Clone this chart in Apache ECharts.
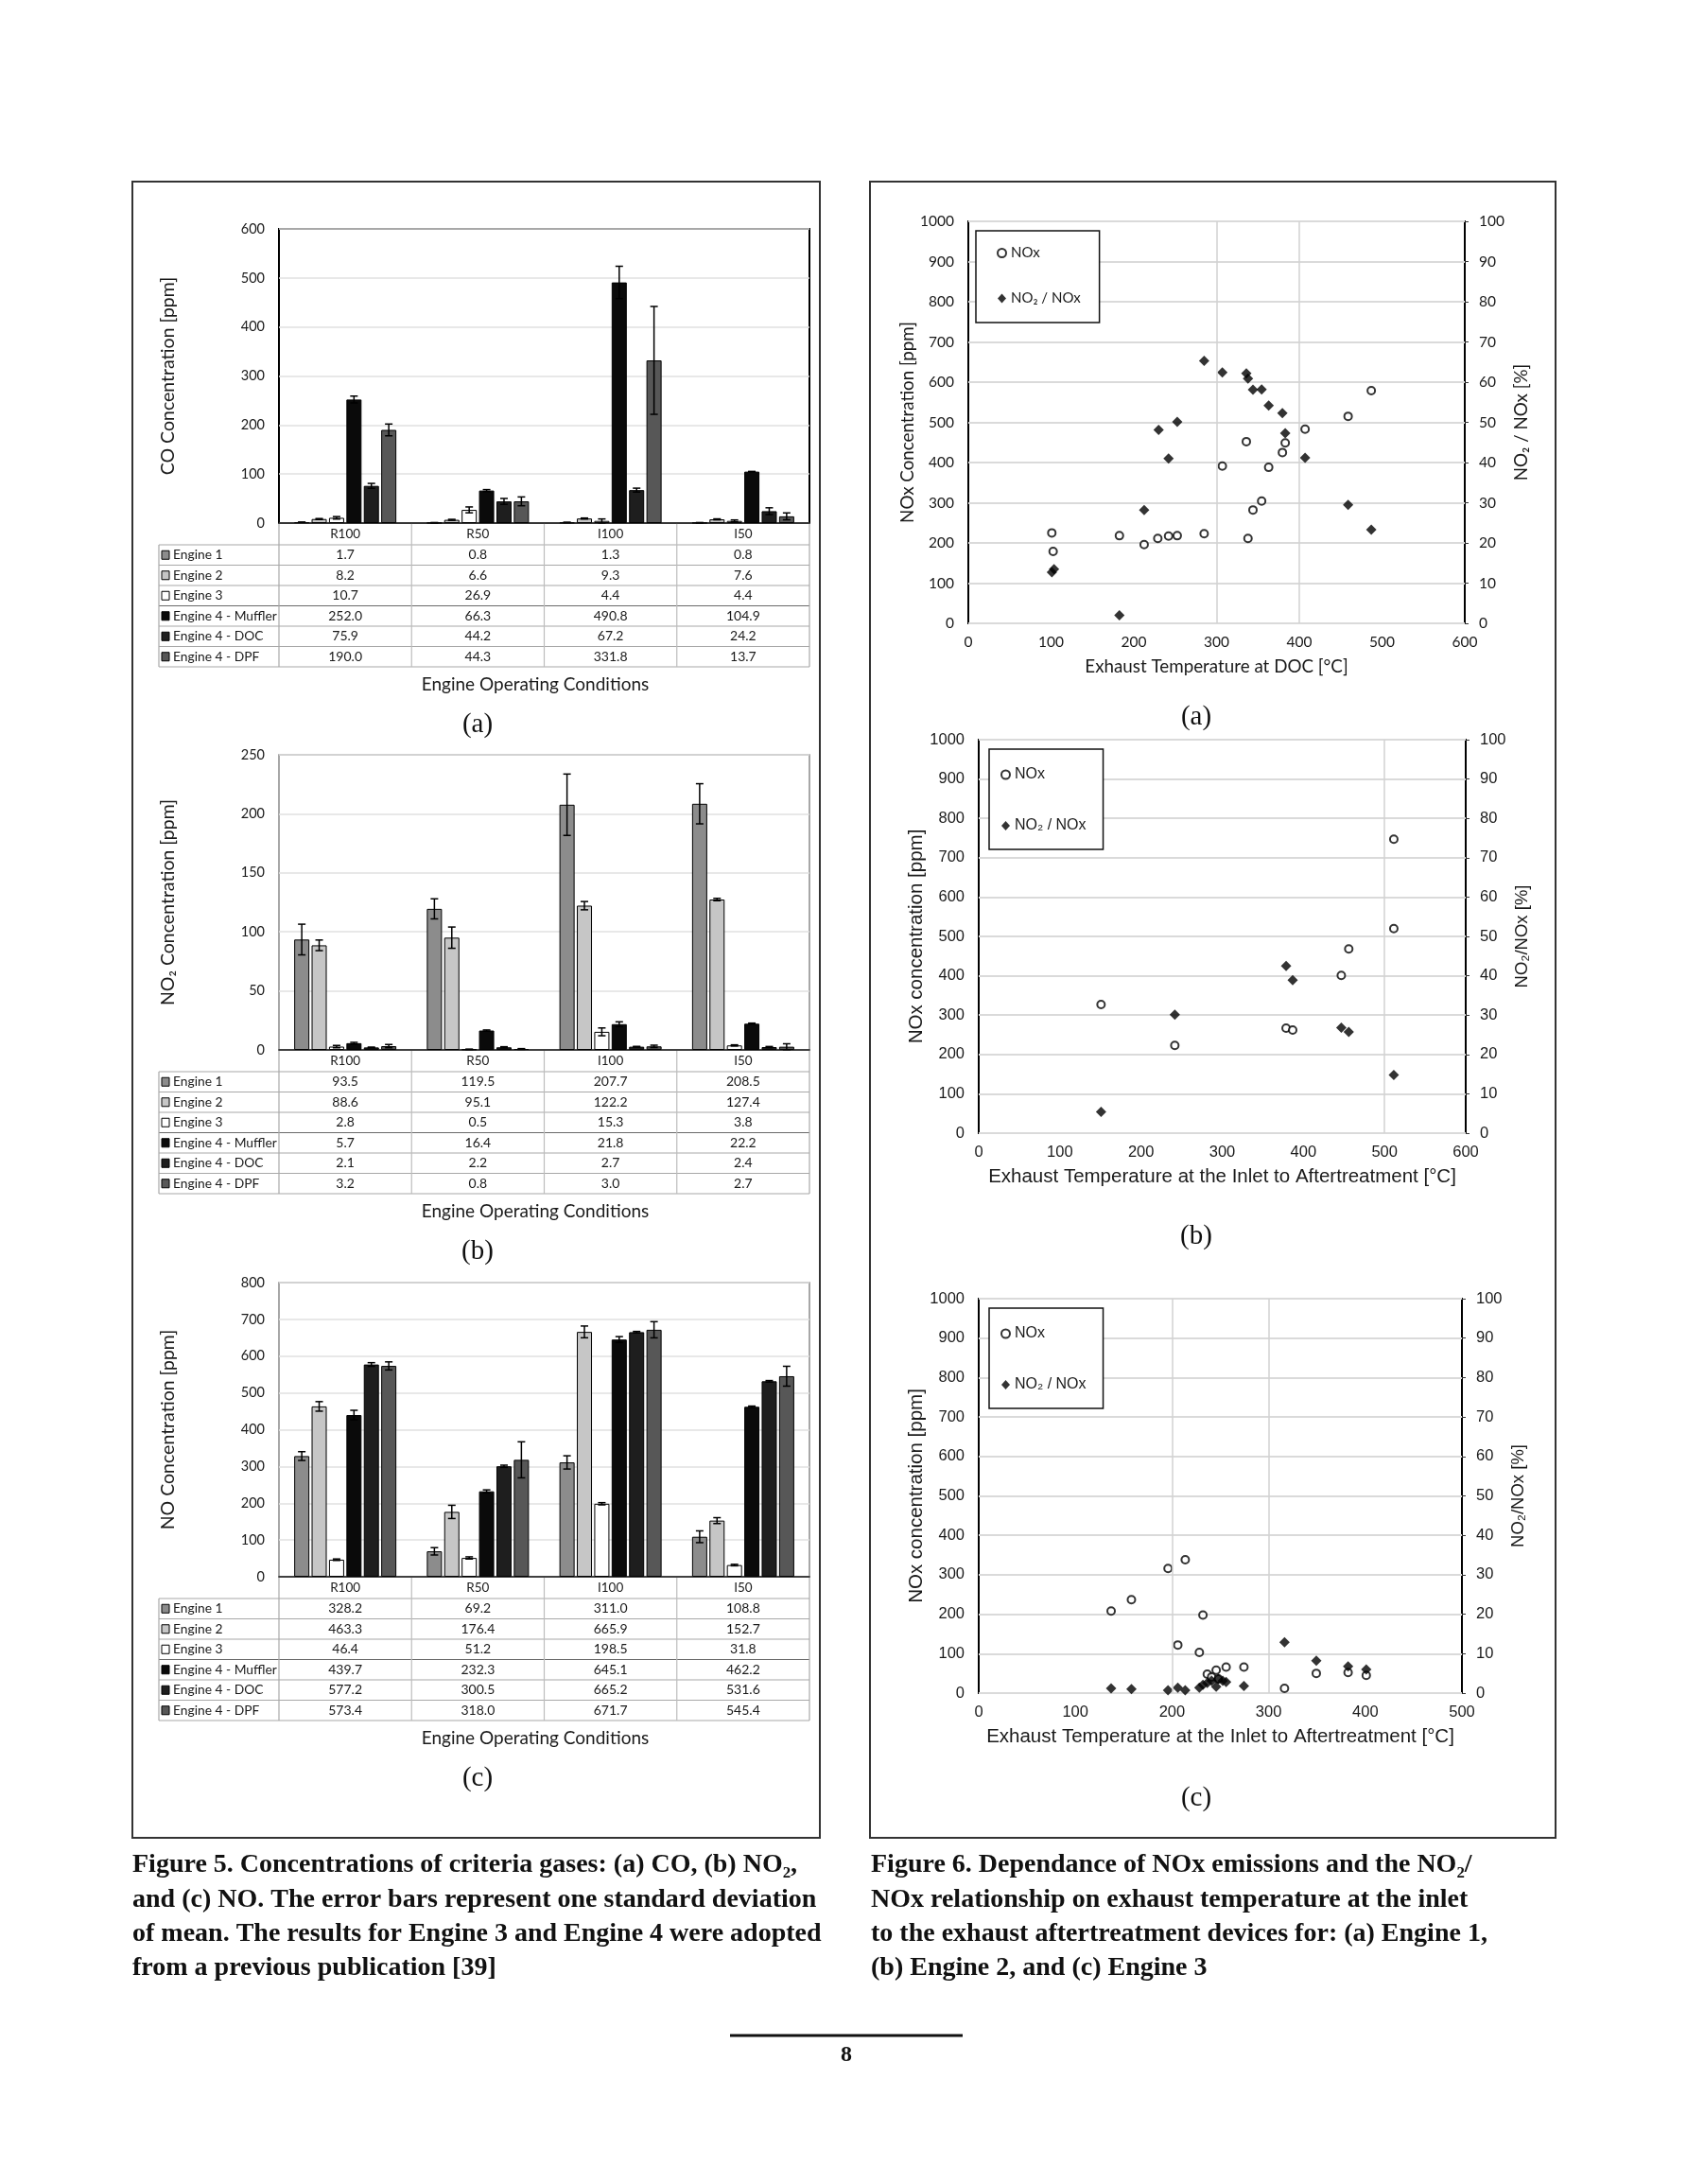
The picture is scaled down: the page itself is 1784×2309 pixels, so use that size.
<!DOCTYPE html>
<html>
<head>
<meta charset="utf-8">
<script src="https://cdn.jsdelivr.net/npm/echarts@6/dist/echarts.min.js"></script>
<style>
html,body{margin:0;padding:0;background:#ffffff;}
#page{width:1784px;height:2309px;}
</style>
</head>
<body>
<div id="page"></div>
<script>
// ---------------- DATA ----------------
const categories = ['R100', 'R50', 'I100', 'I50'];
const engineNames = ['Engine 1', 'Engine 2', 'Engine 3', 'Engine 4 - Muffler', 'Engine 4 - DOC', 'Engine 4 - DPF'];

// Figure 5 (a) CO [ppm]: rows = engines, columns = categories
const coValues = [
  [1.7, 0.8, 1.3, 0.8],
  [8.2, 6.6, 9.3, 7.6],
  [10.7, 26.9, 4.4, 4.4],
  [252.0, 66.3, 490.8, 104.9],
  [75.9, 44.2, 67.2, 24.2],
  [190.0, 44.3, 331.8, 13.7]
];
const coErrors = [
  [0.3, 0.2, 0.3, 0.2],
  [1, 1, 1, 1],
  [2.5, 6, 4, 2],
  [7, 2, 33, 0.5],
  [5, 6, 4, 7],
  [12, 9, 110, 7]
];

// Figure 5 (b) NO2 [ppm]
const no2Values = [
  [93.5, 119.5, 207.7, 208.5],
  [88.6, 95.1, 122.2, 127.4],
  [2.8, 0.5, 15.3, 3.8],
  [5.7, 16.4, 21.8, 22.2],
  [2.1, 2.2, 2.7, 2.4],
  [3.2, 0.8, 3.0, 2.7]
];
const no2Errors = [
  [13, 8.5, 26, 17],
  [4.5, 9, 3.5, 1],
  [1, 0.1, 3.3, 0.5],
  [0.7, 0.5, 2, 0.5],
  [0.3, 0.5, 0.3, 0.5],
  [1.4, 0.3, 1, 2.5]
];

// Figure 5 (c) NO [ppm]
const noValues = [
  [328.2, 69.2, 311.0, 108.8],
  [463.3, 176.4, 665.9, 152.7],
  [46.4, 51.2, 198.5, 31.8],
  [439.7, 232.3, 645.1, 462.2],
  [577.2, 300.5, 665.2, 531.6],
  [573.4, 318.0, 671.7, 545.4]
];
const noErrors = [
  [12, 10, 18, 16],
  [13, 18, 16, 8],
  [2, 3, 3, 2],
  [13, 4, 8, 2],
  [5, 3, 2, 2],
  [11, 49, 22, 27]
];

const barTicks = { co: [0, 600, 100], no2: [0, 250, 50], no: [0, 800, 100] };

// Figure 6 (a) Engine 1: [temperature °C, NOx ppm] and [temperature °C, NO2/NOx %]
const engine1NOx = [
  [100.9, 225], [102.5, 179], [182.6, 218], [212.5, 196], [229, 211], [242, 217], [252.5, 218],
  [285, 223], [307, 391], [336, 452], [338, 211], [344, 282], [354.5, 304], [363, 388],
  [379.6, 425], [383, 449], [407, 483], [459, 515], [487, 579]
];
const engine1Ratio = [
  [101, 12.7], [103.6, 13.5], [182.6, 2.0], [212.5, 28.2], [230, 48.1], [242, 41.0], [252.5, 50.1],
  [285, 65.3], [307, 62.4], [336, 62.2], [338, 60.9], [344, 58.1], [354.5, 58.2], [363, 54.2],
  [379.6, 52.3], [383, 47.3], [407, 41.2], [459, 29.5], [487, 23.3]
];
// Figure 6 (b) Engine 2
const engine2NOx = [
  [150.7, 327], [241.6, 223], [378.7, 267], [386.8, 262], [446.7, 401], [455.9, 468], [511.4, 747], [511.4, 520]
];
const engine2Ratio = [
  [150.7, 5.4], [241.6, 30.1], [378.7, 42.5], [386.8, 38.9], [446.7, 26.8], [455.9, 25.7], [511.4, 14.8]
];
// Figure 6 (c) Engine 3
const engine3NOx = [
  [137, 208], [158, 237], [195.9, 316], [213.7, 338], [232, 198], [206, 122], [228.3, 103],
  [236.5, 48], [245.7, 58], [241, 41], [248, 36], [256, 66], [274.4, 66], [316.4, 12],
  [349.3, 50], [382.2, 52], [401, 45]
];
const engine3Ratio = [
  [137, 1.2], [158, 1.0], [195.9, 0.7], [206, 1.4], [213.7, 0.7], [228.3, 1.4], [232, 2.1],
  [236.5, 2.6], [241, 3.1], [245.7, 1.6], [248, 3.6], [252.5, 3.1], [256, 2.8], [274.4, 1.8],
  [316.4, 12.9], [349.3, 8.2], [382.2, 6.8], [401, 6.0]
];

// ---------------- STYLE / LAYOUT ----------------
const engineColors = ['#8c8c8c', '#c6c6c6', '#ffffff', '#0a0a0a', '#1e1e1e', '#575757'];
const BAR_W = 16, BAR_GAP = 0.15;
const PL = 295, PW = 561;
const TL = 168;
const barLayout = [
  { top: 242, h: 311, border: '#000', bw: 2 },
  { top: 798, h: 312, border: '#8a8a8a', bw: 1.5 },
  { top: 1356, h: 311, border: '#8a8a8a', bw: 1.5 }
];
const HEAD_H = 23, ROW_H = 21.5;
const SANS_A = 'Lato';
const SANS_B = '"Liberation Sans", Arial, sans-serif';
const SERIF = '"Liberation Serif", "DejaVu Serif", serif';
const TXT = '#1a1a1a';

const chart = echarts.init(document.getElementById('page'), null, { renderer: 'canvas' });

const grids = [], xAxes = [], yAxes = [], series = [], graphics = [], legends = [];
const plain = function (v) { return String(v); };

function txt(x, y, text, font, align, valign, fill) {
  return { type: 'text', x: x, y: y, silent: true,
    style: { text: text, font: font, fill: fill || TXT,
      align: align || 'center', verticalAlign: valign || 'middle',
      textAlign: align || 'center', textVerticalAlign: valign || 'middle' } };
}
function ln(x1, y1, x2, y2, color, w) {
  return { type: 'line', silent: true, shape: { x1: x1, y1: y1, x2: x2, y2: y2 },
    style: { stroke: color || '#9a9a9a', lineWidth: w || 1 } };
}

const barSpecs = [
  { values: coValues, errors: coErrors, ticks: barTicks.co, name: 'CO Concentration [ppm]', tag: '(a)' },
  { values: no2Values, errors: no2Errors, ticks: barTicks.no2, name: 'NO\u2082 Concentration [ppm]', tag: '(b)' },
  { values: noValues, errors: noErrors, ticks: barTicks.no, name: 'NO Concentration [ppm]', tag: '(c)' }
];

barSpecs.forEach(function (spec, k) {
  const L = barLayout[k];
  grids.push({ left: PL, top: L.top, width: PW, height: L.h, show: true,
    borderColor: L.border, borderWidth: L.bw, backgroundColor: 'transparent' });
  xAxes.push({ type: 'category', gridIndex: k, data: categories,
    axisLine: { show: true, lineStyle: { color: '#111', width: 1.5 } },
    axisTick: { show: false },
    axisLabel: { margin: 5, fontFamily: SANS_A, fontSize: 13.5, color: TXT },
    splitLine: { show: false } });
  yAxes.push({ type: 'value', gridIndex: k, min: spec.ticks[0], max: spec.ticks[1], interval: spec.ticks[2],
    name: spec.name, nameLocation: 'middle', nameRotate: 90, nameGap: 107,
    nameTextStyle: { fontFamily: SANS_A, fontSize: 19.5, color: TXT },
    axisLine: { show: false }, axisTick: { show: false },
    axisLabel: { margin: 15, fontFamily: SANS_A, fontSize: 14.5, color: TXT, formatter: plain },
    splitLine: { show: true, lineStyle: { color: '#e0e0e0', width: 1.5 } } });

  spec.values.forEach(function (row, i) {
    series.push({ type: 'bar', name: engineNames[i], xAxisIndex: k, yAxisIndex: k, data: row,
      barWidth: BAR_W, barGap: (BAR_GAP * 100) + '%', z: 2,
      itemStyle: { color: engineColors[i], borderColor: '#000', borderWidth: 1 } });
  });

  const errData = [];
  spec.values.forEach(function (row, i) {
    row.forEach(function (v, c) { errData.push([c, i, v, spec.errors[i][c]]); });
  });
  series.push({ type: 'custom', xAxisIndex: k, yAxisIndex: k, z: 5, silent: true,
    encode: { x: 0, y: 2 }, data: errData,
    renderItem: function (params, api) {
      const c = api.value(0), i = api.value(1), v = api.value(2), e = api.value(3);
      const step = BAR_W * (1 + BAR_GAP);
      const off = (i - 2.5) * step;
      const hi = api.coord([c, v + e]);
      const lo = api.coord([c, Math.max(0, v - e)]);
      const x = hi[0] + off;
      const cap = 4;
      const st = { stroke: '#000', lineWidth: 1.5 };
      return { type: 'group', children: [
        { type: 'line', shape: { x1: x, y1: hi[1], x2: x, y2: lo[1] }, style: st },
        { type: 'line', shape: { x1: x - cap, y1: hi[1], x2: x + cap, y2: hi[1] }, style: st },
        { type: 'line', shape: { x1: x - cap, y1: lo[1], x2: x + cap, y2: lo[1] }, style: st }
      ] };
    } });

  // data table below the chart
  const B = L.top + L.h;
  const catW = PW / categories.length;
  const tTop = B + HEAD_H, tBot = tTop + ROW_H * engineNames.length;
  for (let r = 0; r <= engineNames.length; r++) {
    const y = tTop + r * ROW_H;
    const col = (r === 3) ? '#6a6a6a' : '#a8a8a8';
    graphics.push(ln(TL, y, PL + PW, y, col, 1.2));
  }
  graphics.push(ln(TL, tTop, TL, tBot, '#a8a8a8', 1.2));
  for (let j = 0; j <= categories.length; j++) {
    const x = PL + j * catW;
    graphics.push(ln(x, B, x, tBot, (j === 0 || j === categories.length) ? '#a8a8a8' : '#bdbdbd', 1.2));
  }
  engineNames.forEach(function (nm, i) {
    const cy = tTop + (i + 0.5) * ROW_H;
    graphics.push({ type: 'rect', silent: true, shape: { x: 171, y: cy - 4.5, width: 8, height: 9 },
      style: { fill: engineColors[i], stroke: '#000', lineWidth: 1 } });
    graphics.push(txt(183, cy, nm, '13.8px ' + SANS_A, 'left', 'middle'));
    spec.values[i].forEach(function (v, c) {
      graphics.push(txt(PL + (c + 0.5) * catW, cy, v.toFixed(1), '14px ' + SANS_A, 'center', 'middle'));
    });
  });
  graphics.push(txt(566, B + 171, 'Engine Operating Conditions', '19px ' + SANS_A, 'center', 'middle'));
  graphics.push(txt(505, B + 213, spec.tag, '29px ' + SERIF, 'center', 'middle', '#111'));
});

// ---------- scatter charts ----------
const scLayout = [
  { left: 1024, top: 234, width: 525, height: 425, xmax: 600, font: SANS_A, lab: 15.5, ttl: 18.8, rttl: 18.8,
    yName: 'NOx Concentration [ppm]', rName: 'NO\u2082 / NOx [%]', xName: 'Exhaust Temperature at DOC [\u00b0C]',
    vlines: [300, 400], nox: engine1NOx, ratio: engine1Ratio, tag: '(a)', tagY: 758, lfs: 15,
    legend: { left: 1032, top: 244, gap: 33, pad: [16, 20, 18, 22] } },
  { left: 1035, top: 782, width: 515, height: 416, xmax: 600, font: SANS_B, lab: 16.5, ttl: 20.5, rttl: 18.5,
    yName: 'NOx concentration [ppm]', rName: 'NO\u2082/NOx [%]', xName: 'Exhaust Temperature at the Inlet to Aftertreatment [\u00b0C]',
    vlines: [500], nox: engine2NOx, ratio: engine2Ratio, tag: '(b)', tagY: 1307, lfs: 16,
    legend: { left: 1046, top: 792, gap: 38, pad: [19, 18, 17, 12] } },
  { left: 1035, top: 1373, width: 511, height: 417, xmax: 500, font: SANS_B, lab: 16.5, ttl: 20.5, rttl: 18.5,
    yName: 'NOx concentration [ppm]', rName: 'NO\u2082/NOx [%]', xName: 'Exhaust Temperature at the Inlet to Aftertreatment [\u00b0C]',
    vlines: [200, 300], nox: engine3NOx, ratio: engine3Ratio, tag: '(c)', tagY: 1901, lfs: 16,
    legend: { left: 1046, top: 1383, gap: 38, pad: [19, 18, 17, 12] } }
];

scLayout.forEach(function (S, m) {
  const gi = 3 + m;
  grids.push({ left: S.left, top: S.top, width: S.width, height: S.height, show: true,
    borderColor: '#000', borderWidth: 2, backgroundColor: 'transparent' });
  xAxes.push({ type: 'value', gridIndex: gi, min: 0, max: S.xmax, interval: 100,
    name: S.xName, nameLocation: 'middle', nameGap: 36,
    nameTextStyle: { fontFamily: S.font, fontSize: S.ttl, color: TXT },
    axisLine: { show: false }, axisTick: { show: false },
    axisLabel: { margin: 12, fontFamily: S.font, fontSize: S.lab, color: TXT, formatter: plain },
    splitLine: { show: false } });
  const yl = yAxes.length;
  yAxes.push({ type: 'value', gridIndex: gi, position: 'left', min: 0, max: 1000, interval: 100,
    name: S.yName, nameLocation: 'middle', nameRotate: 90, nameGap: 52,
    nameTextStyle: { fontFamily: S.font, fontSize: S.ttl, color: TXT },
    axisLine: { show: false }, axisTick: { show: false },
    axisLabel: { margin: 15, fontFamily: S.font, fontSize: S.lab, color: TXT, formatter: plain },
    splitLine: { show: true, lineStyle: { color: '#dadada', width: 2 } } });
  yAxes.push({ type: 'value', gridIndex: gi, position: 'right', min: 0, max: 100, interval: 10,
    name: S.rName, nameLocation: 'middle', nameRotate: 90, nameGap: 50,
    nameTextStyle: { fontFamily: S.font, fontSize: S.rttl, color: TXT },
    axisLine: { show: false }, axisTick: { show: true, length: 4, lineStyle: { color: '#333' } },
    axisLabel: { margin: 15, fontFamily: S.font, fontSize: S.lab, color: TXT, formatter: plain },
    splitLine: { show: false } });
  series.push({ type: 'scatter', name: 'NOx', xAxisIndex: gi, yAxisIndex: yl, data: S.nox,
    symbol: 'circle', symbolSize: 8, z: 4,
    itemStyle: { color: '#ffffff', borderColor: '#000', borderWidth: 2 },
    markLine: { silent: true, symbol: 'none', label: { show: false },
      lineStyle: { color: '#d2d2d2', width: 1.5, type: 'solid' },
      data: S.vlines.map(function (v) { return { xAxis: v }; }) } });
  series.push({ type: 'scatter', name: 'NO\u2082 / NOx', xAxisIndex: gi, yAxisIndex: yl + 1, data: S.ratio,
    symbol: 'diamond', symbolSize: 11, z: 4, itemStyle: { color: '#000' } });
  legends.push({ show: true, orient: 'vertical', left: S.legend.left, top: S.legend.top,
    itemGap: S.legend.gap, itemWidth: 9, itemHeight: 10, padding: S.legend.pad,
    borderColor: '#111', borderWidth: 1.5, selectedMode: false, backgroundColor: '#fff',
    data: ['NOx', 'NO\u2082 / NOx'],
    textStyle: { fontFamily: S.font, fontSize: S.lfs, color: TXT } });
  graphics.push(txt(1265, S.tagY, S.tag, '29px ' + SERIF, 'center', 'middle', '#111'));
});

// ---------- page frames, captions, page number ----------
graphics.push({ type: 'rect', silent: true, shape: { x: 140, y: 192, width: 727, height: 1751 },
  style: { fill: 'none', stroke: '#333', lineWidth: 2 } });
graphics.push({ type: 'rect', silent: true, shape: { x: 920, y: 192, width: 725, height: 1751 },
  style: { fill: 'none', stroke: '#333', lineWidth: 2 } });

const caption5 = [
  'Figure 5. Concentrations of criteria gases: (a) CO, (b) NO\u2082,',
  'and (c) NO. The error bars represent one standard deviation',
  'of mean. The results for Engine 3 and Engine 4 were adopted',
  'from a previous publication [39]'
];
const caption6 = [
  'Figure 6. Dependance of NOx emissions and the NO\u2082/',
  'NOx relationship on exhaust temperature at the inlet',
  'to the exhaust aftertreatment devices for: (a) Engine 1,',
  '(b) Engine 2, and (c) Engine 3'
];
const capY = [1972, 2009, 2045, 2081];
caption5.forEach(function (t, i) {
  graphics.push(txt(140, capY[i], t, 'bold 28px ' + SERIF, 'left', 'middle', '#111'));
});
caption6.forEach(function (t, i) {
  graphics.push(txt(921, capY[i], t, 'bold 28px ' + SERIF, 'left', 'middle', '#111'));
});
graphics.push(ln(772, 2152, 1018, 2152, '#111', 3));
graphics.push(txt(895, 2173, '8', 'bold 24px ' + SERIF, 'center', 'middle', '#111'));

chart.setOption({
  animation: false,
  backgroundColor: '#ffffff',
  grid: grids,
  xAxis: xAxes,
  yAxis: yAxes,
  legend: legends,
  series: series,
  graphic: { elements: graphics }
});
</script>
</body>
</html>
